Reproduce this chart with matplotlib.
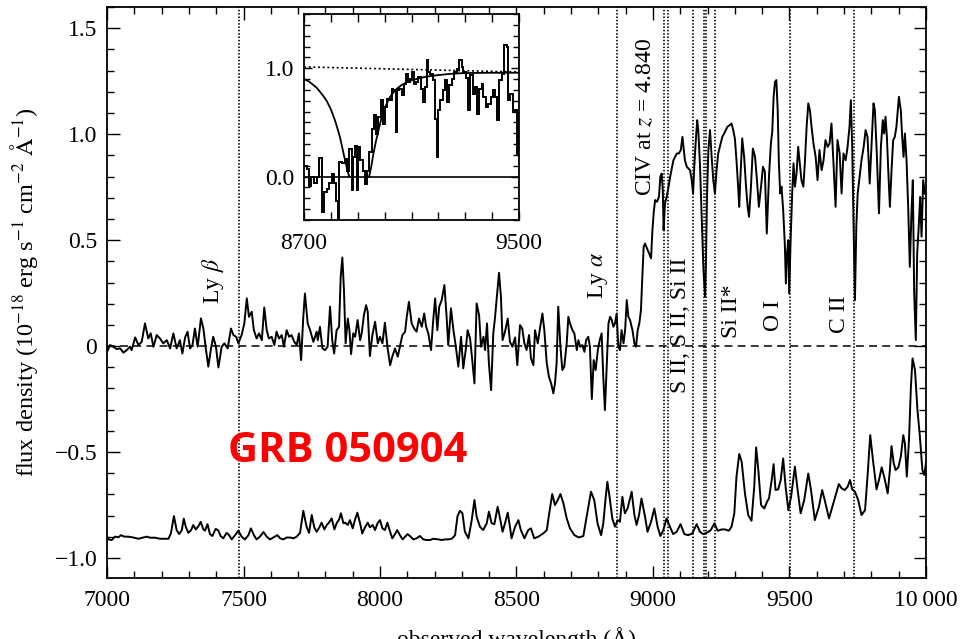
import matplotlib
matplotlib.use("Agg")
import matplotlib.pyplot as plt
from matplotlib.ticker import MultipleLocator

plt.rcParams['font.family'] = ['Liberation Serif', 'DejaVu Serif']
plt.rcParams['mathtext.fontset'] = 'stix'

# observed spectrum (flux density, 1e-18 erg/s/cm2/A)
lam_obs = [
    7000, 7011, 7023, 7035, 7048, 7060, 7072, 7084, 7090, 7103, 7115, 7127, 7139, 7151, 7160, 7170,
    7182, 7194, 7206, 7219, 7231, 7243, 7255, 7267, 7276, 7286, 7295, 7304, 7313, 7322, 7332, 7344,
    7353, 7361, 7371, 7381, 7389, 7399, 7408, 7420, 7430, 7442, 7454, 7463, 7473, 7481, 7493, 7503,
    7512, 7520, 7530, 7538, 7548, 7557, 7567, 7576, 7585, 7593, 7603, 7613, 7621, 7630, 7640, 7648,
    7658, 7667, 7676, 7686, 7695, 7703, 7711, 7719, 7725, 7735, 7744, 7756, 7768,
    7772, 7780, 7789, 7799, 7808, 7817, 7825, 7832, 7841, 7850, 7856, 7862, 7868, 7874, 7882, 7888,
    7894, 7902, 7909, 7918, 7927, 7933, 7941, 7949, 7955, 7963, 7972, 7982, 7992, 8000, 8009, 8018,
    8028, 8037, 8045, 8055, 8065, 8073, 8082, 8092, 8098, 8106, 8116, 8125, 8134, 8143, 8153, 8162,
    8169, 8177, 8187, 8195, 8202, 8210, 8217, 8226, 8236, 8244, 8250, 8260, 8269, 8277, 8287, 8297,
    8305, 8314, 8321, 8330, 8338, 8346, 8354, 8363, 8370, 8379, 8385, 8392, 8399, 8407, 8415, 8421,
    8427, 8436, 8443, 8449, 8458, 8468, 8476, 8485, 8495, 8503, 8513, 8521, 8529, 8537, 8546, 8553,
    8562,
    8568, 8578, 8586, 8595, 8602, 8611, 8619, 8627, 8635, 8641, 8647, 8653, 8661, 8668, 8675, 8684,
    8690, 8696, 8705, 8712, 8721, 8727, 8733, 8741, 8749, 8755, 8763, 8769, 8776, 8783, 8790, 8798,
    8805, 8812, 8818, 8824, 8831, 8837, 8843, 8849, 8855, 8861, 8867, 8873, 8879, 8885, 8892, 8898,
    8904, 8910, 8916, 8925, 8932, 8938, 8944, 8950, 8956, 8961, 8966, 8971, 8978, 8986, 8993, 8998,
    9003, 9008, 9015, 9022, 9027, 9032, 9036, 9039, 9044, 9050, 9056, 9063, 9069, 9075, 9081, 9088,
    9095, 9102, 9108, 9113, 9117, 9124, 9130, 9136, 9142, 9147, 9152, 9157, 9162, 9166, 9172, 9178,
    9185, 9191, 9194, 9198, 9203, 9209, 9215, 9221,
    9227, 9233, 9239, 9245, 9254, 9264, 9273, 9282, 9288, 9294, 9300, 9306, 9312, 9316, 9321, 9327,
    9334, 9341, 9347, 9352, 9359, 9366, 9374, 9381, 9388, 9396, 9403, 9410, 9417, 9425, 9432, 9437,
    9442, 9447, 9452, 9457, 9461, 9466, 9471, 9477, 9483, 9487, 9491, 9496, 9499, 9504, 9510, 9515,
    9520, 9526, 9532, 9538, 9544, 9551, 9557, 9563, 9569, 9575, 9581, 9588, 9596, 9603, 9610, 9618,
    9625, 9632, 9640, 9647, 9654, 9662, 9669, 9676, 9684, 9691, 9698, 9706, 9713, 9720, 9725, 9730,
    9735, 9740, 9745, 9750, 9757, 9764, 9772, 9779, 9786, 9794, 9801, 9808, 9813, 9820, 9828, 9835,
    9842, 9847, 9852, 9857, 9862, 9868, 9874, 9880, 9886, 9892, 9901, 9908, 9913, 9918, 9923, 9929,
    9935, 9941, 9947, 9952, 9957, 9963, 9968, 9973, 9979, 9984, 9990, 9996,
]
flux_obs = [
    -0.027, 0.005, -0.003, -0.014, -0.011, -0.031, -0.019, -0.003, -0.019, 0.041, 0.005, 0.020, 0.107, 0.036, 0.060, -0.003,
    0.052, 0.036, 0.013, 0.028, -0.011, 0.060, -0.011, 0.028, -0.035, 0.041, 0.068, -0.011, 0.005, 0.083, -0.003, 0.131,
    0.083, -0.003, -0.097, -0.011, 0.044, -0.003, -0.101, -0.003, 0.013, -0.011, 0.083, 0.052, 0.044, 0.013, 0.052, 0.107,
    0.225, 0.138, 0.162, 0.075, 0.036, 0.060, 0.028, 0.182, 0.075, 0.036, 0.044, 0.005, 0.068, 0.036, 0.052, -0.003,
    0.075, 0.044, 0.052, 0.020, 0.005, 0.060, -0.066, 0.138, 0.248, 0.107, 0.075, 0.020, 0.068,
    0.028, 0.091, -0.011, -0.019, -0.003, 0.186, 0.028, -0.035, 0.075, 0.091, 0.327, 0.418, 0.264, 0.013, 0.130, 0.075,
    -0.038, 0.060, 0.044, 0.123, 0.028, 0.060, 0.146, 0.193, 0.162, -0.047, 0.052, 0.115, 0.013, 0.044, 0.013, 0.110,
    -0.011, -0.090, -0.050, -0.011, -0.050, -0.003, 0.052, 0.068, 0.138, 0.209, 0.107, 0.083, 0.068, 0.130, 0.091, 0.154,
    0.091, 0.060, -0.019, 0.123, 0.225, 0.075, 0.186, 0.217, 0.288, 0.138, 0.005, 0.178, 0.075, 0.005, -0.097, 0.044,
    -0.105, -0.019, 0.075, 0.036, -0.066, -0.176, 0.201, 0.146, -0.003, 0.044, -0.019, 0.107, -0.082, -0.208, 0.060, 0.130,
    0.217, 0.346, 0.233, 0.028, 0.068, 0.130, 0.020, -0.003, 0.041, -0.090, 0.099, 0.083, 0.013, -0.019, 0.052, -0.058,
    -0.090,
    0.075, 0.013, 0.083, 0.154, 0.075, -0.082, -0.145, -0.176, -0.223, -0.176, -0.082, 0.186, -0.003, -0.113, -0.097, 0.013,
    0.138, 0.107, 0.075, 0.060, -0.019, 0.028, -0.003, 0.005, -0.027, 0.028, 0.044, -0.003, -0.250, -0.066, -0.113, -0.019,
    0.028, 0.060, -0.145, -0.302, -0.082, 0.107, 0.138, 0.123, 0.091, 0.107, 0.154, -0.003, -0.019, 0.075, 0.013, 0.075,
    0.217, 0.138, 0.123, 0.075, 0.013, -0.003, 0.075, 0.107, 0.170, 0.327, 0.469, 0.484, 0.461, 0.437, 0.414, 0.547,
    0.634, 0.689, 0.681, 0.704, 0.799, 0.814, 0.736, 0.547, 0.673, 0.704, 0.744, 0.799, 0.838, 0.877, 0.893, 0.909,
    0.909, 0.925, 0.987, 0.925, 0.877, 0.846, 0.838, 0.830, 0.783, 0.720, 0.862, 0.972, 1.066, 1.019, 0.862, 0.627,
    0.358, 0.233, 0.390, 0.704, 0.925, 1.019, 0.893, 0.783,
    0.720, 0.830, 0.909, 0.940, 0.987, 1.011, 1.035, 1.043, 1.050, 1.019, 0.980, 0.877, 0.752, 0.657, 0.814, 0.980,
    0.893, 0.752, 0.657, 0.610, 0.752, 0.932, 0.893, 0.783, 0.657, 0.752, 0.846, 0.823, 0.531, 0.799, 0.956, 1.011,
    1.176, 1.247, 1.255, 1.113, 0.877, 0.720, 0.752, 0.642, 0.484, 0.296, 0.437, 0.500, 0.248, 0.484, 0.720, 0.862,
    0.752, 0.814, 0.940, 0.862, 0.783, 0.752, 0.877, 1.035, 1.145, 1.113, 1.035, 0.956, 0.893, 0.783, 0.925, 0.830,
    0.877, 0.972, 0.940, 0.956, 1.050, 0.846, 0.657, 0.972, 0.909, 0.720, 0.909, 0.877, 0.940, 1.035, 1.160, 0.940,
    0.563, 0.217, 0.563, 0.720, 0.799, 0.877, 0.940, 1.019, 0.987, 0.767, 0.956, 1.145, 1.113, 0.909, 0.626, 0.940,
    1.066, 1.003, 1.082, 0.987, 0.830, 0.657, 0.830, 0.972, 0.987, 1.035, 1.176, 1.113, 0.987, 0.893, 1.003, 0.877,
    0.657, 0.374, 0.626, 0.783, 0.248, 0.028, 0.437, 0.547, 0.704, 0.516, 0.783, 0.720,
]

# sky / noise spectrum, plotted with an offset
lam_sky = [
    7000, 7005, 7017, 7029, 7042, 7051, 7063, 7078, 7096, 7115, 7133, 7145, 7158, 7176, 7194, 7225,
    7234, 7245, 7255, 7264, 7274, 7281, 7289, 7298, 7308, 7316, 7325, 7335, 7343, 7353, 7359, 7368,
    7377, 7386, 7398, 7408, 7416, 7426, 7438, 7447, 7457, 7469, 7481, 7493, 7505, 7518, 7527, 7538,
    7548, 7560, 7573, 7585, 7597, 7609, 7624, 7634, 7646, 7658, 7670, 7683, 7695, 7707, 7719, 7731,
    7740, 7750, 7759, 7768, 7778, 7786, 7796, 7805, 7813, 7823, 7833, 7841, 7850, 7857, 7866, 7872,
    7882, 7890, 7900, 7908, 7917, 7927, 7935, 7945, 7955, 7963, 7973, 7982, 7991, 8000, 8009, 8018,
    8027, 8037, 8045, 8055, 8063, 8073, 8083, 8092, 8101, 8112, 8122, 8134, 8146, 8159, 8171, 8183,
    8195, 8214, 8226, 8238, 8250, 8263, 8275, 8284, 8293, 8302, 8311, 8324, 8336, 8346, 8354, 8366,
    8378, 8391, 8399, 8409, 8419, 8431, 8441, 8449, 8458, 8468, 8476, 8482,
    8495, 8507, 8516, 8529, 8543, 8553, 8565, 8580, 8598, 8611, 8620, 8631, 8641, 8651, 8661, 8672,
    8684, 8696, 8712, 8729, 8745, 8757, 8773, 8785, 8797, 8810, 8818, 8827, 8833, 8841, 8851, 8861,
    8871, 8879, 8888, 8897, 8907, 8922, 8932, 8940, 8949, 8958, 8971, 8980, 8993, 9005, 9017, 9027,
    9038, 9050, 9062, 9074, 9087, 9101, 9115, 9129, 9144, 9160, 9172, 9184, 9197, 9212, 9225, 9237,
    9252, 9264, 9278, 9288, 9298, 9306, 9316, 9325, 9337, 9349, 9361, 9371, 9378, 9386, 9396, 9408,
    9418, 9425, 9435, 9442, 9449, 9459, 9468, 9477, 9486, 9496, 9506, 9520, 9530, 9541, 9554, 9569,
    9579, 9593, 9608, 9620, 9632, 9645, 9661, 9673, 9681, 9691, 9703, 9713, 9722, 9730, 9740, 9752,
    9764, 9777, 9786, 9796, 9806, 9819, 9828, 9838, 9847, 9860, 9868, 9874, 9882, 9889, 9899, 9908,
    9917, 9923, 9930, 9938, 9945, 9951, 9960, 9969, 9978, 9987, 9994, 10000,
]
flux_sky = [
    -0.899, -0.912, -0.915, -0.899, -0.902, -0.892, -0.899, -0.899, -0.903, -0.909, -0.903, -0.899, -0.904, -0.904, -0.909, -0.909,
    -0.884, -0.802, -0.868, -0.887, -0.868, -0.814, -0.855, -0.881, -0.868, -0.844, -0.865, -0.849, -0.829, -0.865, -0.871, -0.840,
    -0.887, -0.896, -0.862, -0.871, -0.896, -0.907, -0.881, -0.892, -0.912, -0.892, -0.871, -0.899, -0.912, -0.892, -0.860, -0.892,
    -0.912, -0.899, -0.877, -0.899, -0.912, -0.903, -0.892, -0.907, -0.912, -0.903, -0.903, -0.907, -0.899, -0.881, -0.777, -0.852,
    -0.881, -0.797, -0.855, -0.876, -0.855, -0.833, -0.865, -0.844, -0.833, -0.813, -0.865, -0.836, -0.818, -0.789, -0.836, -0.833,
    -0.844, -0.821, -0.860, -0.821, -0.786, -0.836, -0.884, -0.855, -0.833, -0.855, -0.844, -0.868, -0.836, -0.821, -0.860, -0.868,
    -0.833, -0.876, -0.907, -0.887, -0.868, -0.892, -0.912, -0.899, -0.887, -0.899, -0.912, -0.907, -0.896, -0.912, -0.915, -0.915,
    -0.909, -0.912, -0.915, -0.912, -0.912, -0.909, -0.892, -0.802, -0.777, -0.789, -0.876, -0.907, -0.821, -0.726, -0.805, -0.852,
    -0.868, -0.836, -0.781, -0.836, -0.840, -0.758, -0.821, -0.876, -0.836, -0.786, -0.852, -0.907,
    -0.852, -0.821, -0.868, -0.907, -0.868, -0.860, -0.907, -0.899, -0.884, -0.868, -0.789, -0.698, -0.750, -0.727, -0.698, -0.742,
    -0.813, -0.860, -0.892, -0.903, -0.896, -0.805, -0.687, -0.727, -0.837, -0.892, -0.837, -0.711, -0.640, -0.711, -0.813, -0.852,
    -0.821, -0.829, -0.711, -0.789, -0.766, -0.687, -0.797, -0.844, -0.797, -0.719, -0.805, -0.876, -0.829, -0.766, -0.852, -0.896,
    -0.868, -0.813, -0.852, -0.887, -0.876, -0.840, -0.887, -0.892, -0.884, -0.840, -0.876, -0.887, -0.881, -0.868, -0.836, -0.871,
    -0.865, -0.865, -0.871, -0.852, -0.789, -0.616, -0.509, -0.546, -0.695, -0.797, -0.824, -0.664, -0.478, -0.585, -0.750, -0.766,
    -0.734, -0.719, -0.632, -0.557, -0.679, -0.676, -0.632, -0.530, -0.664, -0.774, -0.711, -0.569, -0.679, -0.789, -0.727, -0.601,
    -0.679, -0.821, -0.758, -0.679, -0.742, -0.813, -0.742, -0.687, -0.651, -0.671, -0.679, -0.664, -0.632, -0.676, -0.687, -0.727,
    -0.797, -0.774, -0.616, -0.420, -0.538, -0.676, -0.632, -0.572, -0.616, -0.695, -0.585, -0.472, -0.553, -0.585, -0.572, -0.522,
    -0.420, -0.459, -0.616, -0.443, -0.192, -0.058, -0.113, -0.302, -0.428, -0.585, -0.608, -0.553,
]

# absorption lines (observed wavelength)
line_lam = [7483, 8867, 9040, 9056, 9145, 9188, 9195, 9227, 9501, 9737]
line_labels = [
    (7388, 0.20, r'Ly $\beta$'),
    (8799, 0.22, r'Ly $\alpha$'),
    (8974, 0.71, r'CIV at $z$ = 4.840'),
    (9101, -0.22, 'S II, S II, Si II'),
    (9288, 0.04, 'Si II*'),
    (9443, 0.07, 'O I'),
    (9685, 0.06, 'C II'),
]

# inset: binned spectrum around the red damping wing
inset_edges = [
    8700, 8710, 8720, 8726, 8737, 8747, 8757, 8766, 8774, 8784, 8794, 8803, 8812, 8819, 8828, 8831,
    8840, 8853, 8861, 8869, 8877, 8884, 8890, 8896, 8902, 8908, 8918, 8927, 8933, 8943, 8952, 8960,
    8968, 8977, 8985, 8993, 9001, 9010, 9018, 9026, 9032, 9042, 9047, 9055, 9063, 9072, 9080, 9088,
    9094, 9101, 9109, 9117, 9125, 9134, 9142, 9150, 9156, 9163, 9169, 9179, 9187, 9194, 9200, 9206,
    9216, 9225, 9233, 9241, 9249, 9258, 9268, 9278, 9287, 9293, 9303, 9311, 9318, 9328, 9336, 9342,
    9352, 9361, 9367, 9377, 9386, 9395, 9404, 9411, 9419, 9427, 9436, 9444, 9454, 9460, 9467, 9476,
    9485, 9491, 9497, 9500,
]
inset_flux = [
    0.096, 0.071, -0.083, -0.006, -0.062, 0.000, 0.173, -0.330, -0.145, -0.114, -0.062, 0.025, -0.062, -0.222, -0.530, 0.133,
    0.123, 0.164, 0.056, 0.256, -0.123, 0.179, 0.287, -0.123, 0.272, 0.154, 0.056, -0.068, 0.056, 0.225, 0.441, 0.565,
    0.395, 0.549, 0.704, 0.488, 0.642, 0.719, 0.704, 0.812, 0.796, 0.410, 0.796, 0.812, 0.750, 0.858, 0.951, 0.873,
    0.904, 0.966, 0.858, 0.873, 0.920, 0.812, 0.688, 0.827, 1.074, 0.966, 0.951, 0.889, 0.534, 0.179, 0.611, 0.704,
    0.796, 0.889, 0.688, 0.843, 0.904, 0.966, 0.997, 1.074, 1.012, 0.966, 0.914, 0.611, 0.935, 0.765, 0.827, 0.580,
    0.812, 0.858, 0.735, 0.642, 0.673, 0.735, 0.796, 0.735, 0.519, 0.889, 0.951, 1.213, 1.198, 0.704, 0.765, 0.596,
    0.611, 0.210, 0.580,
]
wing_lam = [8942, 8950, 8958, 8967, 8977, 8986, 8995, 9007, 9020, 9032, 9045, 9062, 9082, 9105,
            9132, 9160, 9194, 9240, 9293, 9400, 9500]
wing_flux = [0.0, 0.09, 0.21, 0.32, 0.426, 0.52, 0.596, 0.67, 0.735, 0.775, 0.81, 0.843, 0.87, 0.892,
             0.91, 0.924, 0.935, 0.947, 0.955, 0.958, 0.958]
blue_lam = [8700, 8720, 8747, 8770, 8784, 8800, 8815, 8825, 8834, 8842, 8850, 8856, 8861, 8865, 8869]
blue_flux = [0.90, 0.875, 0.82, 0.75, 0.70, 0.62, 0.52, 0.44, 0.36, 0.27, 0.18, 0.12, 0.06, 0.025, 0.0]
cont_lam = [8700, 9500]
cont_flux = [1.012, 0.965]

x_major = [7000, 7500, 8000, 8500, 9000, 9500, 10000]
x_major_labels = ['7000', '7500', '8000', '8500', '9000', '9500', '10\u2009000']
y_major = [-1.0, -0.5, 0.0, 0.5, 1.0, 1.5]
y_major_labels = ['\u22121.0', '\u22120.5', '0', '0.5', '1.0', '1.5']


def StyleTicks(ax, major_len, minor_len):
    ax.tick_params(which='both', direction='in', top=True, right=True, width=1.0, colors='k')
    ax.tick_params(which='major', length=major_len, labelsize=17, pad=7)
    ax.tick_params(which='minor', length=minor_len)
    for s in ax.spines.values():
        s.set_linewidth(1.3)


fig = plt.figure(figsize=(9.6, 6.39), dpi=100)
ax = fig.add_axes([0.1115, 0.0955, 0.853, 0.8936])

for l in line_lam:
    ax.axvline(l, color='k', lw=1.2, ls=(0, (0.9, 1.1)), zorder=1)
ax.axhline(0.0, color='k', lw=1.1, ls=(0, (5.2, 3.4)), zorder=1)
ax.plot(lam_obs, flux_obs, color='k', lw=1.4, zorder=2)
ax.plot(lam_sky, flux_sky, color='k', lw=1.4, zorder=2)

for x, y, s in line_labels:
    ax.text(x, y, s, rotation=90, ha='center', va='bottom', fontsize=17)

ax.text(7443, -0.547, 'GRB 050904', color='red', fontsize=30, fontweight='bold',
        family=['Open Sans', 'DejaVu Sans'], ha='left', va='baseline')

ax.set_xlim(7000, 10000)
ax.set_ylim(-1.094, 1.6)
ax.set_xticks(x_major)
ax.set_xticklabels(x_major_labels)
ax.set_yticks(y_major)
ax.set_yticklabels(y_major_labels)
ax.xaxis.set_minor_locator(MultipleLocator(100))
ax.yaxis.set_minor_locator(MultipleLocator(0.1))
StyleTicks(ax, 9, 5)
ax.tick_params(axis='x', which='major', pad=9)

ax.set_xlabel('observed wavelength (\u00c5)', fontsize=17)
ax.xaxis.set_label_coords(0.5, -0.086)
ax.set_ylabel(r'flux density (10$^{-18}$ erg s$^{-1}$ cm$^{-2}$ $\mathrm{\AA}^{-1}$)', fontsize=17.5)
ax.yaxis.set_label_coords(-0.082, 0.5)

# inset
axin = fig.add_axes([0.3167, 0.6557, 0.2240, 0.3224])
axin.axhline(0.0, color='k', lw=1.2)
axin.plot(cont_lam, cont_flux, color='k', lw=1.2, ls=(0, (1.2, 1.6)))
axin.plot(blue_lam, blue_flux, color='k', lw=1.3)
axin.plot(wing_lam, wing_flux, color='k', lw=1.3)
axin.stairs(inset_flux, inset_edges, color='k', lw=1.4, baseline=None)
axin.set_xlim(8700, 9500)
axin.set_ylim(-0.4, 1.5)
inset_xt = list(range(8700, 9501, 100))
axin.set_xticks(inset_xt)
axin.set_xticklabels(['8700'] + [''] * 7 + ['9500'])
axin.set_yticks([0.0, 1.0])
axin.set_yticklabels(['0.0', '1.0'])
axin.yaxis.set_minor_locator(MultipleLocator(0.1))
StyleTicks(axin, 6, 4)
axin.tick_params(axis='x', which='major', pad=9)

fig.savefig('out.png', dpi=100)
